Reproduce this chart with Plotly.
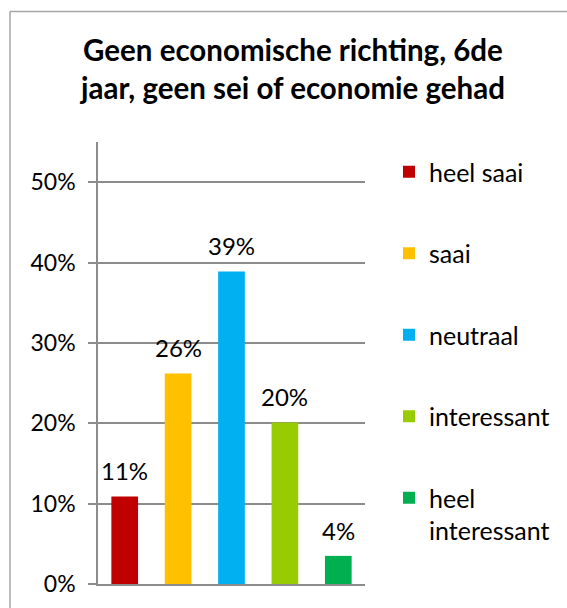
import plotly.graph_objects as go

categories = ["heel saai", "saai", "neutraal", "interessant", "heel<br>interessant"]
values = [0.109, 0.262, 0.389, 0.201, 0.035]
labels = ["11%", "26%", "39%", "20%", "4%"]
colors = ["#C00000", "#FFC000", "#00B0F0", "#99CC00", "#00B050"]
tick_vals = [0, 0.1, 0.2, 0.3, 0.4, 0.5]
tick_text = ["0%", "10%", "20%", "30%", "40%", "50%"]
title_text = "Geen economische richting, 6de<br>jaar, geen sei of economie gehad"

W, H = 567, 608
L, R, T, B = 98, 365, 142, 584  # plot area in px

FONT = "Lato"
GRID = "#8c8c8c"


def px_x(p):
    return (p - L) / (R - L)


def px_y(p):
    return (B - p) / (B - T)


fig = go.Figure()
for i, (c, v, col) in enumerate(zip(categories, values, colors)):
    fig.add_trace(go.Bar(
        x=[i], y=[v], name=c, marker=dict(color=col, line=dict(width=0)),
        width=0.5, legendgroup=f"g{i}",
    ))
    fig.add_annotation(
        x=i, y=v, text=labels[i], showarrow=False, xanchor="center", yanchor="bottom",
        yshift=9, font=dict(family=FONT, size=24, color="#000000"),
    )

frame_col = "#a6a6a6"
fig.add_shape(type="line", xref="paper", yref="paper",
              x0=px_x(10), x1=px_x(10), y0=px_y(640), y1=px_y(11.5),
              line=dict(color=frame_col, width=1.5))
fig.add_shape(type="line", xref="paper", yref="paper",
              x0=px_x(10), x1=px_x(620), y0=px_y(11.5), y1=px_y(11.5),
              line=dict(color=frame_col, width=1.5))

fig.update_layout(
    width=W, height=H,
    margin=dict(l=L, r=W - R, t=T, b=H - B, pad=0),
    paper_bgcolor="white", plot_bgcolor="white",
    barmode="overlay",
    font=dict(family=FONT, color="#000000"),
    title=dict(
        text=title_text, xref="container", yref="container",
        x=293 / W, xanchor="center", y=1 - 61 / H, yanchor="top",
        font=dict(family=FONT, size=29.5, color="#000000", weight="bold"),
    ),
    xaxis=dict(
        range=[-0.5, 4.5], showticklabels=False, ticks="", showgrid=False,
        zeroline=False, showline=True, linecolor=GRID, linewidth=1.5,
        fixedrange=True,
    ),
    yaxis=dict(
        range=[0, 0.55], tickvals=tick_vals, ticktext=tick_text,
        ticks="outside", ticklen=8, tickcolor=GRID, tickwidth=1.5,
        showgrid=True, gridcolor=GRID, gridwidth=1.5, zeroline=False,
        showline=True, linecolor=GRID, linewidth=1.5,
        tickfont=dict(family=FONT, size=23, color="#000000"),
        ticklabelstandoff=8,
    ),
    legend=dict(
        x=px_x(389), xanchor="left", y=px_y(149), yanchor="top",
        font=dict(family=FONT, size=25, color="#000000"),
        tracegroupgap=46, valign="top", bgcolor="rgba(0,0,0,0)",
        borderwidth=0,
    ),
    showlegend=True,
)

fig.write_html(
    "out.html",
    config={"displayModeBar": False},
    post_script="document.body.style.margin='0';document.body.style.overflow='hidden';",
)
